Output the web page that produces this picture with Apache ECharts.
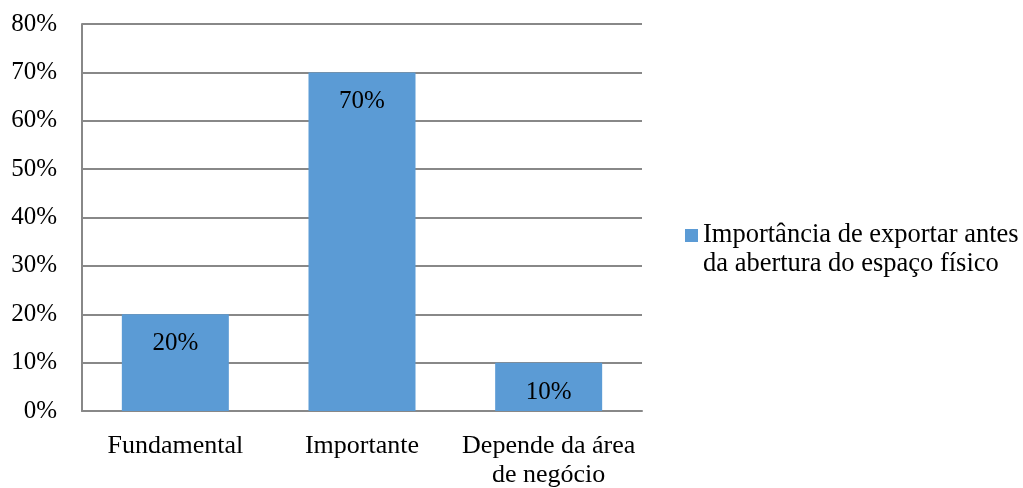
<!DOCTYPE html>
<html>
<head>
<meta charset="utf-8">
<script src="https://cdn.jsdelivr.net/npm/echarts@6/dist/echarts.min.js"></script>
<style>
  html, body { margin: 0; padding: 0; background: #ffffff; }
  #chart { width: 1023px; height: 488px; }
</style>
</head>
<body>
<div id="chart"></div>
<script>
// Categories and values (share of respondents)
const categories = ['Fundamental', 'Importante', 'Depende da área\nde negócio'];
const values = [0.20, 0.70, 0.10];
const seriesName = 'Importância de exportar antes\nda abertura do espaço físico';
const yTicks = [0, 0.1, 0.2, 0.3, 0.4, 0.5, 0.6, 0.7, 0.8];

const FONT = '"Liberation Serif", "Times New Roman", serif';
const GRID_COLOR = '#888888';
const pct = v => Math.round(v * 100) + '%';

const chart = echarts.init(document.getElementById('chart'), null, { renderer: 'canvas' });
chart.setOption({
  animation: false,
  backgroundColor: '#ffffff',
  grid: {
    left: 82, top: 24, right: 381, bottom: 77,
    containLabel: false,
    outerBoundsMode: 'none'
  },
  legend: {
    left: 680,
    top: 187,
    orient: 'vertical',
    itemWidth: 13,
    itemHeight: 13,
    icon: 'rect',
    selectedMode: false,
    // a blank leading line keeps the swatch level with the first text line
    formatter: name => ' \n' + name,
    textStyle: {
      fontFamily: FONT,
      fontSize: 26.5,
      color: '#000000',
      lineHeight: 29
    },
    data: [{ name: seriesName }]
  },
  xAxis: {
    type: 'category',
    data: categories,
    axisLine: { show: true, lineStyle: { color: GRID_COLOR, width: 2 } },
    axisTick: { show: false },
    axisLabel: {
      fontFamily: FONT, fontSize: 26, color: '#000000',
      lineHeight: 29, margin: 21, interval: 0
    }
  },
  yAxis: {
    type: 'value',
    min: 0,
    max: yTicks[yTicks.length - 1],
    interval: 0.1,
    axisLine: { show: true, lineStyle: { color: GRID_COLOR, width: 2 } },
    axisTick: { show: false },
    splitLine: { show: true, lineStyle: { color: GRID_COLOR, width: 2 } },
    axisLabel: {
      fontFamily: FONT, fontSize: 25, color: '#000000',
      margin: 25,
      formatter: pct
    }
  },
  series: [{
    name: seriesName,
    type: 'bar',
    data: values,
    barWidth: 107,
    itemStyle: { color: '#5B9BD5' },
    label: {
      show: true,
      position: 'insideTop',
      distance: 17,
      fontFamily: FONT,
      fontSize: 25,
      color: '#000000',
      formatter: p => pct(p.value)
    }
  }]
});
</script>
</body>
</html>
